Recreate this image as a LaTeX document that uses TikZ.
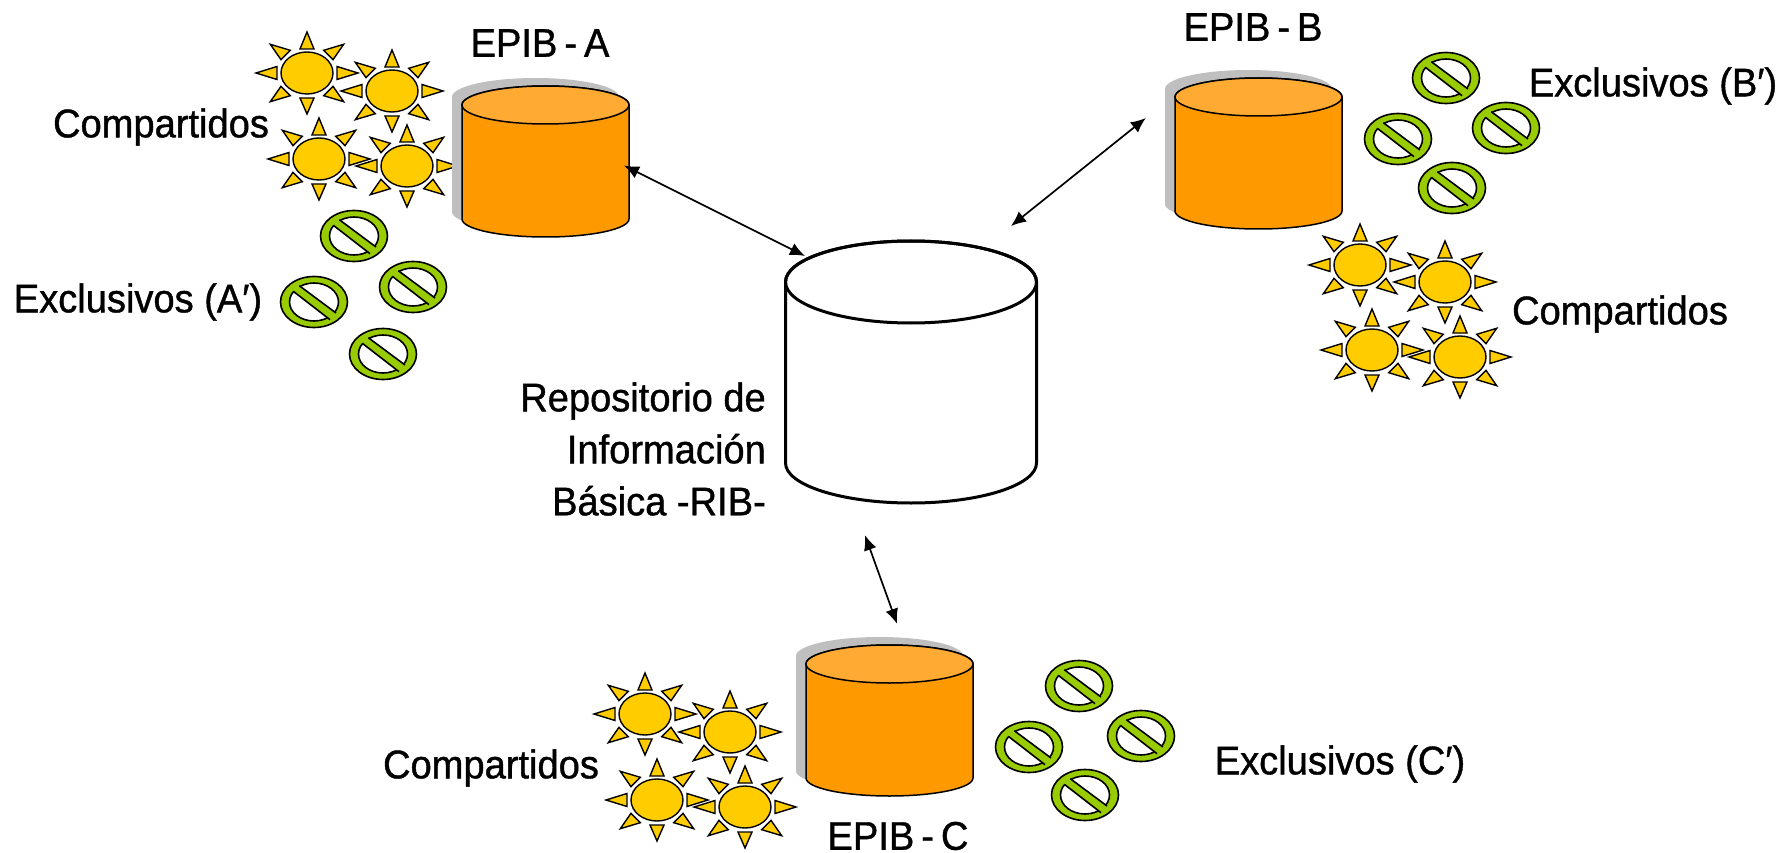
\documentclass[tikz,border=0pt]{standalone}
\usepackage{fontspec}
\setmainfont[FakeBold=1.0,FakeStretch=0.952]{Liberation Sans}
\usetikzlibrary{arrows.meta}
\definecolor{sunfill}{HTML}{FFCC00}
\definecolor{ringfill}{HTML}{99CC00}
\definecolor{cylbody}{HTML}{FF9900}
\definecolor{cyltop}{HTML}{FFAA33}
\definecolor{cylshadow}{HTML}{BFBFBF}
\newcommand{\narrowwords}{\spaceskip 7pt\relax}
\tikzset{
  label text/.style={font=\fontsize{40}{52}\selectfont, inner sep=0pt, text=black},
  sunpart/.style={fill=sunfill, draw=black, line width=1.4pt, line join=miter},
  link/.style={draw=black, line width=1.7pt, {Latex[length=15pt,width=13pt]}-{Latex[length=15pt,width=13pt]}},
  pics/sun/.style={code={
    \path[sunpart] (0,0) ellipse [x radius=26, y radius=21];
    \path[sunpart] (0,-41) -- (7,-24) -- (-7,-24) -- cycle;
    \path[sunpart] (0,41) -- (7,25) -- (-7,25) -- cycle;
    \path[sunpart] (51,0) -- (30,-6.5) -- (30,6.5) -- cycle;
    \path[sunpart] (-51,0) -- (-30,-6.5) -- (-30,6.5) -- cycle;
    \path[sunpart] (36.7,-28.7) -- (16.7,-22.7) -- (26,-13.3) -- cycle;
    \path[sunpart] (-36.7,-28.7) -- (-16.7,-22.7) -- (-26,-13.3) -- cycle;
    \path[sunpart] (36.7,28.7) -- (16.7,22.7) -- (26,13.3) -- cycle;
    \path[sunpart] (-36.7,28.7) -- (-16.7,22.7) -- (-26,13.3) -- cycle;
  }},
  pics/nosign/.style={code={
    \path[fill=ringfill, draw=black, line width=1.6pt] (0,0) ellipse [x radius=33.5, y radius=25.5];
    \path[fill=white, draw=black, line width=1.6pt] (0,0) ellipse [x radius=24.5, y radius=19];
    \fill[ringfill] (-23,-12.2) -- (17.5,19.2) -- (23.5,12.7) -- (-16.5,-18.2) -- cycle;
    \draw[black, line width=1.6pt] (-20.7,-10.7) -- (16,17.7) (-14.7,-16.3) -- (22,11);
  }}
}
\newcommand{\orangecyl}[3]{% name, left x, top y
  \begin{scope}[shift={(#2,#3)}]
    \fill[cylshadow] (-10,11) -- (-10,126)
      arc[start angle=180, end angle=0, x radius=83.5, y radius=18]
      -- (157,11) arc[start angle=0, end angle=-180, x radius=83.5, y radius=19] -- cycle;
    \path[fill=cylbody, draw=black, line width=1.5pt] (0,19) -- (0,133)
      arc[start angle=180, end angle=0, x radius=83.5, y radius=18]
      -- (167,19) arc[start angle=0, end angle=-180, x radius=83.5, y radius=19] -- cycle;
    \path[fill=cyltop, draw=black, line width=1.5pt] (83.5,19) ellipse [x radius=83.5, y radius=19];
    \node[inner sep=0pt, minimum width=167pt, minimum height=151pt] (#1) at (83.5,75.5) {};
  \end{scope}
}
\begin{document}
\begin{tikzpicture}[x=1pt,y=-1pt]
\useasboundingbox (0,0) rectangle (1789,853);
% group A
\foreach \px/\py in {307/73,392/91,319/159,407/166} \pic at (\px,\py) {sun};
\foreach \px/\py in {354/236,314/302,413/287,383/354} \pic at (\px,\py) {nosign};
\orangecyl{epiba}{462}{86}
% group B
\foreach \px/\py in {1360/265,1445/282,1372/350,1460/357} \pic at (\px,\py) {sun};
\foreach \px/\py in {1446/78,1398/139,1506/128,1452/188} \pic at (\px,\py) {nosign};
\orangecyl{epibb}{1175}{78}
% group C
\foreach \px/\py in {645/714,730/732,657/800,745/807} \pic at (\px,\py) {sun};
\foreach \px/\py in {1079/686,1029/747,1141/736,1085/795} \pic at (\px,\py) {nosign};
\orangecyl{epibc}{806}{645}
% central repository
\path[fill=white, draw=black, line width=3pt] (785.5,282) -- (785.5,463)
  arc[start angle=180, end angle=0, x radius=125.5, y radius=40]
  -- (1036.5,282) arc[start angle=0, end angle=-180, x radius=125.5, y radius=41] -- cycle;
\path[draw=black, line width=3pt] (911,282) ellipse [x radius=125.5, y radius=41];
\node[inner sep=0pt, minimum width=251pt, minimum height=262pt] (rib) at (911,372) {};
% connectors
\draw[link] ([shift={(78.5,4)}]epiba.center) -- ([shift={(-106,-116)}]rib.center);
\draw[link] ([shift={(-29,-35.5)}]epibb.west) -- ([shift={(100,-146)}]rib.center);
\draw[link] ([shift={(-46,32)}]rib.south) -- ([shift={(7.5,-21)}]epibc.north);
% labels
\node[label text] (la) at (540,43) {\narrowwords EPIB - A};
\node[label text] (lb) at (1253,27) {\narrowwords EPIB - B};
\node[label text] (lc) at (898,836) {\narrowwords EPIB - C};
\node[label text] (ca) at (161,127) {Compartidos};
\node[label text] (cb) at (1620,314) {Compartidos};
\node[label text] (cc) at (491,768) {Compartidos};
\node[label text] (ea) at (138,302) {Exclusivos (A′)};
\node[label text] (eb) at (1653,86) {Exclusivos (B′)};
\node[label text] (ec) at (1340,764) {Exclusivos (C′)};
\node[label text, align=right, anchor=east] (rl) at (766,449) {Repositorio de\\Información\\Básica -RIB-};
\end{tikzpicture}
\end{document}
